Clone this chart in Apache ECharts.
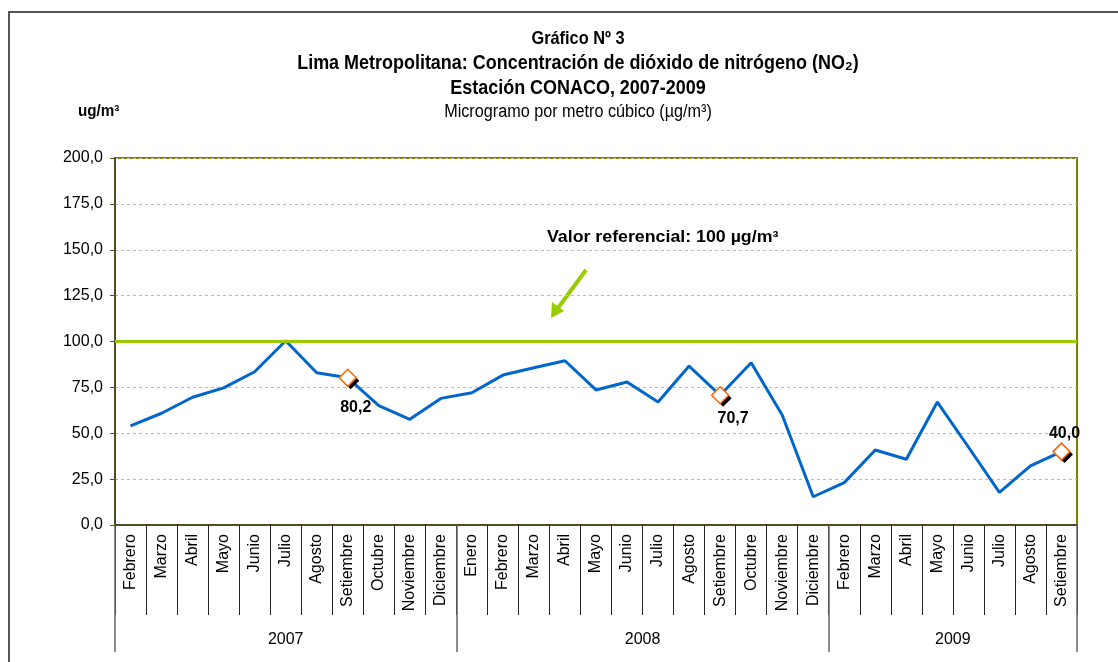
<!DOCTYPE html>
<html>
<head>
<meta charset="utf-8">
<script src="https://cdn.jsdelivr.net/npm/echarts@6/dist/echarts.min.js"></script>
<style>
html,body{margin:0;padding:0;background:#fff;}
#chart{width:1118px;height:662px;}
</style>
</head>
<body>
<div id="chart"></div>
<script>
var months2007 = ['Febrero','Marzo','Abril','Mayo','Junio','Julio','Agosto','Setiembre','Octubre','Noviembre','Diciembre'];
var months2008 = ['Enero','Febrero','Marzo','Abril','Mayo','Junio','Julio','Agosto','Setiembre','Octubre','Noviembre','Diciembre'];
var months2009 = ['Febrero','Marzo','Abril','Mayo','Junio','Julio','Agosto','Setiembre'];
var years = ['2007','2008','2009'];
var values2007 = [54.0, 60.9, 69.6, 74.7, 83.5, 100.4, 83.0, 80.2, 65.0, 57.6, 69.0];
var values2008 = [72.1, 81.7, 85.7, 89.5, 73.6, 77.9, 67.0, 86.6, 70.7, 88.4, 59.9, 15.4];
var values2009 = [23.1, 40.9, 35.8, 67.0, 42.5, 17.8, 32.2, 40.0];
var yTicks = [0, 25, 50, 75, 100, 125, 150, 175, 200];
var referenceValue = 100;
var labeledIndices = [7, 19, 30];

var categories = months2007.concat(months2008, months2009);
var values = values2007.concat(values2008, values2009);
var yearGroups = [months2007.length, months2008.length, months2009.length];

// label placement styling for the annotated points
var labelStyles = [
  {position: 'bottom', distance: 13, offset: [8, 0]},
  {position: 'bottom', distance: 13, offset: [13, -7]},
  {position: 'top', distance: 1, offset: [3, 0]}
];

// half-month grid for year axis (boundaryGap false)
var nHalf = categories.length * 2;
var yearAxisData = [];
for (var i = 0; i <= nHalf; i++) yearAxisData.push('');
var yearTickIdx = [0];
var acc = 0;
yearGroups.forEach(function (n, k) {
  var start = acc * 2;
  acc += n;
  var end = acc * 2;
  yearTickIdx.push(end);
  yearAxisData[(start + end) / 2] = years[k];
});

function fmt(v) { return v.toFixed(1).replace('.', ','); }

var markerData = labeledIndices.map(function (idx, k) {
  var ls = labelStyles[k];
  return {
    value: [idx, values[idx]],
    label: {show: true, position: ls.position, distance: ls.distance, offset: ls.offset,
      formatter: function (p) { return fmt(p.value[1]); },
      fontFamily: 'Liberation Sans, Arial, sans-serif', fontWeight: 'bold', fontSize: 16, color: '#000'}
  };
});
var shadowData = labeledIndices.map(function (idx) { return [idx, values[idx]]; });

var chart = echarts.init(document.getElementById('chart'));
var sans = '"Liberation Sans", Arial, sans-serif';
function titleText(txt, y, size, weight, sx) {
  return {type: 'text', x: 578, y: y, scaleX: sx, z: 10,
    style: {text: txt, font: weight + ' ' + size + 'px ' + sans, fill: '#000',
      align: 'center', verticalAlign: 'middle', textAlign: 'center', textVerticalAlign: 'middle'}};
}
chart.setOption({
  animation: false,
  backgroundColor: '#fff',
  grid: {left: 115, right: 41, top: 158, bottom: 137, show: true, borderColor: '#808000', borderWidth: 2, backgroundColor: 'transparent'},
  xAxis: [
    {type: 'category', data: categories, boundaryGap: true, position: 'bottom',
      axisLine: {show: true, lineStyle: {color: '#4d4d26', width: 2}},
      axisTick: {show: true, interval: 0, length: 90, lineStyle: {color: '#222', width: 1}},
      axisLabel: {interval: 0, rotate: 90, margin: 9, fontFamily: 'Liberation Sans, Arial, sans-serif', fontSize: 16, color: '#000'},
      splitLine: {show: false}},
    {type: 'category', data: yearAxisData, boundaryGap: false, position: 'bottom',
      axisLine: {show: false},
      axisTick: {show: true, length: 127, interval: function (idx) { return yearTickIdx.indexOf(idx) >= 0; }, lineStyle: {color: '#666', width: 1.5}},
      axisLabel: {interval: function (idx, val) { return val !== ''; }, margin: 107, fontFamily: 'Liberation Sans, Arial, sans-serif', fontSize: 16, color: '#000'},
      splitLine: {show: false}}
  ],
  yAxis: {type: 'value', min: yTicks[0], max: yTicks[yTicks.length - 1], interval: yTicks[1] - yTicks[0],
    axisLine: {show: true, lineStyle: {color: '#4d4d26', width: 2}},
    axisTick: {show: true, length: 5, lineStyle: {color: '#4d4d26'}},
    axisLabel: {margin: 12, formatter: fmt, fontFamily: 'Liberation Sans, Arial, sans-serif', fontSize: 16, color: '#000'},
    splitLine: {show: true, lineStyle: {color: '#bbb', type: [3, 3], width: 1}}},
  series: [
    {type: 'line', data: values, xAxisIndex: 0, symbol: 'none',
      lineStyle: {color: '#0066CC', width: 3}, itemStyle: {color: '#0066CC'},
      markLine: {silent: true, symbol: 'none', label: {show: false},
        lineStyle: {color: '#99CC00', width: 3, type: 'solid'},
        data: [{yAxis: referenceValue}]},
      z: 3},
    {type: 'scatter', data: shadowData, xAxisIndex: 0, symbol: 'diamond', symbolSize: 17, symbolOffset: [3, 3],
      itemStyle: {color: '#000', opacity: 1}, silent: true, z: 4},
    {type: 'scatter', data: markerData, xAxisIndex: 0, symbol: 'diamond', symbolSize: 17,
      itemStyle: {color: '#fff', borderColor: '#FF6600', borderWidth: 1.5, opacity: 1}, z: 5}
  ],
  graphic: [
    {type: 'rect', shape: {x: 9, y: 12, width: 1200, height: 700}, style: {fill: 'none', stroke: '#555', lineWidth: 2}, z: -1},
    titleText('Gráfico Nº 3', 39, 19, 'bold', 0.86),
    titleText('Lima Metropolitana: Concentración de dióxido de nitrógeno (NO₂)', 63.5, 21, 'bold', 0.855),
    titleText('Estación CONACO, 2007-2009', 88, 21, 'bold', 0.855),
    titleText('Microgramo por metro cúbico (µg/m³)', 112, 18, 'normal', 0.9),
    {type: 'text', x: 78, y: 112, scaleX: 0.95, style: {text: 'ug/m³', font: 'bold 16px ' + sans, fill: '#000', verticalAlign: 'middle', textVerticalAlign: 'middle'}},
    {type: 'text', x: 547, y: 238, scaleX: 1.11, style: {text: 'Valor referencial: 100 µg/m³', font: 'bold 16px ' + sans, fill: '#000', verticalAlign: 'middle', textVerticalAlign: 'middle'}},
    {type: 'line', shape: {x1: 586, y1: 270, x2: 558, y2: 308}, style: {stroke: '#99CC00', lineWidth: 4}},
    {type: 'polygon', shape: {points: [[551, 318], [552, 302], [564, 311]]}, style: {fill: '#99CC00'}}
  ]
});
</script>
</body>
</html>
